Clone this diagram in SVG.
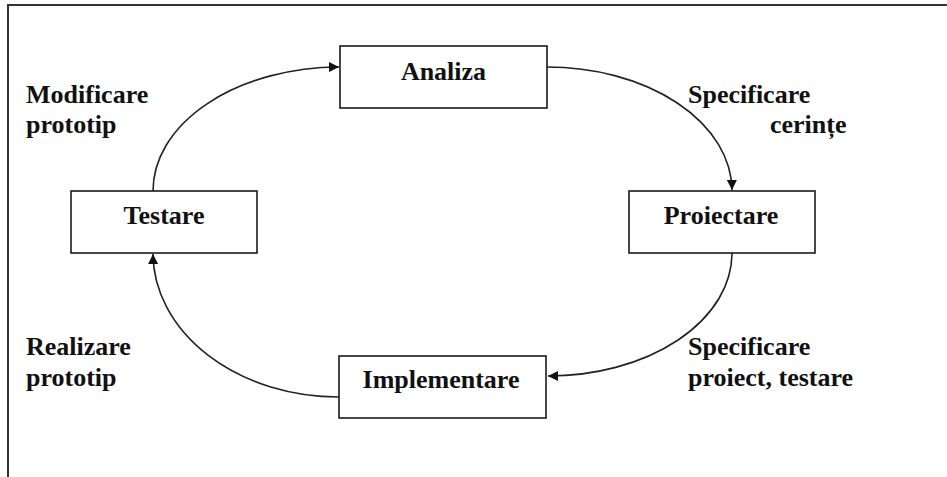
<svg xmlns="http://www.w3.org/2000/svg" width="947" height="477" viewBox="0 0 947 477">
<style>
  .box { fill: #ffffff; stroke: #1a1a1a; stroke-width: 1.6; }
  text { font-family: 'Liberation Serif', 'DejaVu Serif', serif; font-weight: 700; font-size: 26px; fill: #111111; }
  .mid { text-anchor: middle; }
  .edge { fill: none; stroke: #222222; stroke-width: 1.6; marker-end: url(#arrow); }
  .frame { fill: none; stroke: #333333; stroke-width: 2; }
</style>
<defs>
  <marker id="arrow" viewBox="0 0 10 10" refX="10" refY="5" markerWidth="11" markerHeight="10" markerUnits="userSpaceOnUse" orient="auto">
    <path d="M0,0 L10,5 L0,10 Z" fill="#111111"/>
  </marker>
</defs>
<rect x="0" y="0" width="947" height="477" fill="#ffffff"/>
<polyline class="frame" points="8,477 8,5 947,5"/>

<g id="connectors">
  <path class="edge" d="M153,191 A187,124 0 0 1 339,67"/>
  <path class="edge" d="M547,67 A185,124 0 0 1 732,190"/>
  <path class="edge" d="M732,253 A184,123 0 0 1 548,376"/>
  <path class="edge" d="M339,397 A186,144 0 0 1 153,254"/>
</g>

<g id="node-analiza">
  <rect class="box" x="340" y="46" width="207" height="62"/>
  <text class="mid" x="443.5" y="80" font-family="Liberation Serif, serif">Analiza</text>
</g>
<g id="node-proiectare">
  <rect class="box" x="629" y="191" width="186" height="62"/>
  <text class="mid" x="721" y="224" font-family="Liberation Serif, serif">Proiectare</text>
</g>
<g id="node-implementare">
  <rect class="box" x="339" y="356" width="207" height="62"/>
  <text class="mid" x="441" y="388" font-family="Liberation Serif, serif">Implementare</text>
</g>
<g id="node-testare">
  <rect class="box" x="71" y="191" width="186" height="62"/>
  <text class="mid" x="164" y="224" font-family="Liberation Serif, serif">Testare</text>
</g>

<g id="labels" font-family="Liberation Serif, serif">
  <text x="26" y="103">Modificare</text>
  <text x="26" y="133">prototip</text>
  <text x="688" y="103">Specificare</text>
  <text x="770" y="133">cerințe</text>
  <text x="688" y="355">Specificare</text>
  <text x="688" y="386">proiect, testare</text>
  <text x="26" y="355">Realizare</text>
  <text x="26" y="386">prototip</text>
</g>
</svg>
